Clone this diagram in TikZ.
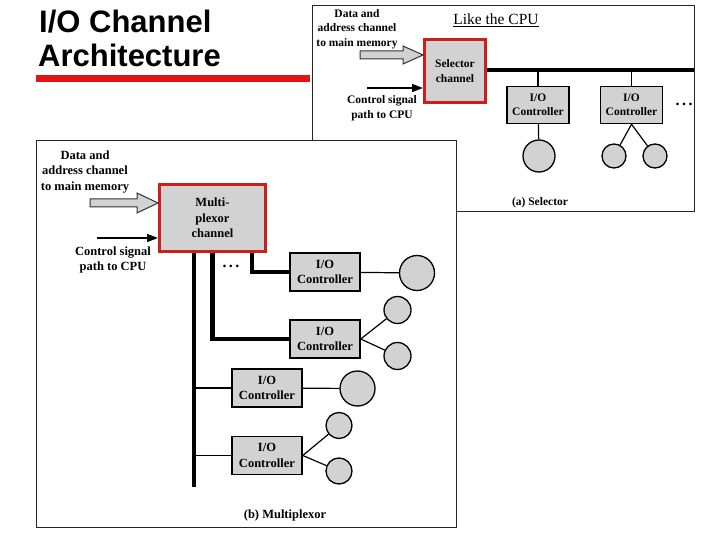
\documentclass[tikz,border=0pt]{standalone}
\usepackage{fontspec}
\setmainfont{Liberation Serif}
\newfontfamily\titlefont{Liberation Sans}
\usepackage{tikz}
\usetikzlibrary{arrows.meta, positioning, calc}
\definecolor{slidered}{RGB}{228,18,18}
\definecolor{boxred}{RGB}{205,30,30}
\definecolor{boxgray}{RGB}{210,210,210}

\begin{document}
\begin{tikzpicture}[x=1pt, y=-1pt,
  ttl/.style={font=\titlefont\bfseries\fontsize{31}{34}\selectfont,
              anchor=base west, inner sep=0pt},
  panel/.style={draw=black!85, fill=white, line width=1pt},
  sfont/.style={font=\bfseries\fontsize{11.5}{14.5}\selectfont},
  mfont/.style={font=\bfseries\fontsize{12.5}{15.5}\selectfont},
  chan/.style={rectangle, draw=boxred, fill=boxgray, line width=3pt, align=center},
  ioc/.style={rectangle, draw=black, fill=boxgray, line width=1.5pt,
              align=center, inner sep=1pt},
  dev/.style={circle, draw=black, fill=boxgray, line width=1.3pt, inner sep=0pt},
  bus/.style={line width=4.5pt},
  link/.style={line width=1.2pt},
  arr/.style={-{Triangle[length=11pt,width=8pt]}, line width=1.5pt},
  fat/.style={draw=black!80, fill=boxgray, line width=1pt, line join=miter},
  lbl/.style={align=center, inner sep=0pt},
  dots/.style={font=\bfseries\fontsize{16}{16}\selectfont, inner sep=0pt}
]
\useasboundingbox (0,0) rectangle (720,540);

\node[ttl] (ttl1) at (39,33) {I/O Channel};
\node[ttl] (ttl2) at (38,67) {Architecture};
\draw[slidered, line width=7pt] (36,78.5) -- (310,78.5);

\draw[panel] (312,6) rectangle (694,212);
\node[chan, sfont, minimum width=61pt, minimum height=63pt] (selch) at (455,71) {Selector\\channel};
\coordinate (sbusend) at (694,70);
\draw[bus] (selch.east |- sbusend) -- (sbusend);
\node[ioc, sfont, minimum width=62pt, minimum height=37pt] (sioc1) at (538,105) {I/O\\Controller};
\node[ioc, sfont, minimum width=62pt, minimum height=37pt, right=30pt of sioc1] (sioc2) {I/O\\Controller};
\draw[link] (sioc1.north) -- (sioc1.north |- sbusend);
\draw[link] (sioc2.north) -- (sioc2.north |- sbusend);
\node[dots] (sdots) at (684,104) {.\hspace{2.5pt}.\hspace{2.5pt}.};
\node[dev, minimum size=32pt] (sdev1) at (539,156) {};
\node[dev, minimum size=24pt] (sdev2) at (614,156) {};
\node[dev, minimum size=24pt] (sdev3) at (655,156) {};
\draw[link] (sioc1) -- (sdev1);
\draw[link] (sioc2.south) -- (sdev2);
\draw[link] (sioc2.south) -- (sdev3);

\coordinate (stip) at ([yshift=16pt]selch.west);
\draw[fat] (stip) -- ++(-20,-9) -- ++(0,5) -- ++(-43,0) -- ++(0,8) -- ++(43,0) -- ++(0,5) -- cycle;
\coordinate (sctl) at (367,88);
\draw[arr] (sctl) -- (sctl -| selch.west);
\node[lbl, sfont] (sdata) at (357,29) {Data and\\address channel\\to main memory};
\node[lbl, sfont] (sctltxt) at (382,108) {Control signal\\path to CPU};
\node[font=\fontsize{15.5}{18}\selectfont, inner sep=0pt] (like) at (496,20) {\underline{Like the CPU}};
\node[lbl, sfont] (scap) at (540,203) {(a) Selector};

\draw[panel] (36,141) rectangle (456,527);
\node[chan, mfont, minimum width=106pt, minimum height=67pt] (muxch) at (212.5,218) {Multi-\\plexor\\channel};
\coordinate (mtip) at ([yshift=15pt]muxch.west);
\draw[fat] (mtip) -- ++(-21,-10) -- ++(0,6) -- ++(-47,0) -- ++(0,8) -- ++(47,0) -- ++(0,6) -- cycle;
\coordinate (mctl) at (97,238);
\draw[arr] (mctl) -- (mctl -| muxch.west);
\node[lbl, mfont] (mdata) at (85,172) {Data and\\address channel\\to main memory};
\node[lbl, mfont] (mctltxt) at (113,260) {Control signal\\path to CPU};

\node[ioc, mfont, minimum width=70pt, minimum height=38pt] (mioc1) at (325,272) {I/O\\Controller};
\node[ioc, mfont, minimum width=70pt, minimum height=38pt] (mioc2) at (325,339) {I/O\\Controller};
\node[ioc, mfont, minimum width=70pt, minimum height=38pt] (mioc3) at (267,388) {I/O\\Controller};
\node[ioc, mfont, minimum width=70pt, minimum height=38pt, below=28pt of mioc3] (mioc4) {I/O\\Controller};

\coordinate (mbusend) at (194,487);
\draw[bus] (muxch.south -| mbusend) -- (mbusend);
\draw[bus] (muxch.south) |- (mioc2.west);
\draw[bus] ($(muxch.south east)+(-15,0)$) |- (mioc1.west);
\draw[link] (mioc3.west -| mbusend) -- (mioc3.west);
\draw[link] (mioc4.west -| mbusend) -- (mioc4.west);
\node[dots] (mdots) at (231,266) {.\hspace{2.5pt}.\hspace{2.5pt}.};

\node[dev, minimum size=35pt] (mdev1) at (417,273) {};
\node[dev, minimum size=27pt] (mdev2) at (397.5,310) {};
\node[dev, minimum size=27pt] (mdev3) at (397.5,356) {};
\node[dev, minimum size=35pt] (mdev4) at (357.5,388.5) {};
\node[dev, minimum size=26pt] (mdev5) at (339,425.5) {};
\node[dev, minimum size=26pt] (mdev6) at (339,471) {};
\draw[link] (mioc1) -- (mdev1);
\draw[link] (mioc2.east) -- (mdev2);
\draw[link] (mioc2.east) -- (mdev3);
\draw[link] (mioc3) -- (mdev4);
\draw[link] (mioc4.east) -- (mdev5);
\draw[link] (mioc4.east) -- (mdev6);
\node[lbl, mfont] (mcap) at (285,515) {(b) Multiplexor};
\end{tikzpicture}
\end{document}
